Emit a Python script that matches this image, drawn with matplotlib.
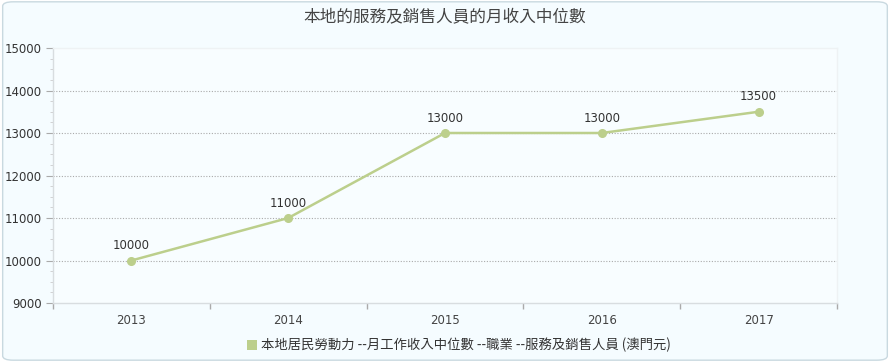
import matplotlib
matplotlib.use("Agg")
import matplotlib.pyplot as plt
from matplotlib.patches import FancyBboxPatch, Rectangle
from matplotlib.ticker import MultipleLocator
import numpy as np

plt.rcParams['font.family'] = ['Noto Sans CJK TC', 'DejaVu Sans']

years = ["2013", "2014", "2015", "2016", "2017"]
values = [10000, 11000, 13000, 13000, 13500]
title = "本地的服務及銷售人員的月收入中位數"
series_name = "本地居民勞動力 --月工作收入中位數 --職業 --服務及銷售人員 (澳門元)"

line_color = "#bccf8c"

fig = plt.figure(figsize=(8.9, 3.62), dpi=100)
fig.patch.set_facecolor("white")

# background rounded box
bg = FancyBboxPatch((0.003, 0.005), 0.994, 0.99, boxstyle="round,pad=0,rounding_size=0.012",
                    transform=fig.transFigure, facecolor="#f5fcff", edgecolor="#c9d9e0",
                    linewidth=1.0, zorder=-10)
fig.patches.append(bg)

ax = fig.add_axes([53/890, 1-303/362, (837-53)/890, (303-48)/362])
ax.set_zorder(1)
ax.set_facecolor("#f8fdff")
x = np.arange(len(years))
ax.plot(x, values, color=line_color, linewidth=1.8, marker="o", markersize=5.5,
        markerfacecolor=line_color, markeredgecolor=line_color, zorder=3)
for xi, v in zip(x, values):
    ax.annotate(f"{v}", (xi, v), xytext=(0, 6), textcoords="offset points",
                ha="center", va="bottom", fontsize=8.5, color="#333333", family="DejaVu Sans")

ax.set_xlim(-0.5, len(years) - 0.5)
ax.set_ylim(9000, 15000)
ax.set_xticks(x)
ax.set_xticklabels(years, fontsize=8.5, color="#444444", family="DejaVu Sans")
ax.set_xticks(np.arange(-0.5, len(years), 1.0), minor=True)
ax.tick_params(axis="x", which="major", length=0, pad=8)
ax.tick_params(axis="x", which="minor", length=4, color="#aaaaaa", width=1)
ax.yaxis.set_major_locator(MultipleLocator(1000))
ax.yaxis.set_minor_locator(MultipleLocator(250))
ax.tick_params(axis="y", which="major", length=5, color="#aaaaaa", labelsize=8.5,
               labelcolor="#333333", pad=3)
ax.tick_params(axis="y", which="minor", length=2, color="#cccccc")
for lbl in ax.get_yticklabels():
    lbl.set_family("DejaVu Sans")
for yv in range(10000, 15000, 1000):
    ax.axhline(yv, color="#aaaaaa", linestyle=(0, (1, 1.5)), linewidth=0.8, zorder=1)

for side in ["top", "right"]:
    ax.spines[side].set_color("#eef2f4")
    ax.spines[side].set_linewidth(1)
for side in ["left", "bottom"]:
    ax.spines[side].set_color("#d8dde0")
    ax.spines[side].set_linewidth(1)

fig.text(0.5, 1-18/362, title, ha="center", va="center", fontsize=12, color="#444444",
         fontweight="medium")

# legend
lx = 247/890
ly = 1-345/362
fig.patches.append(Rectangle((lx, ly - 5/362), 10/890, 10/362, transform=fig.transFigure,
                             facecolor=line_color, edgecolor="none"))
fig.text(lx + 14/890, ly, series_name, ha="left", va="center", fontsize=9.6, color="#333333")

fig.savefig("out.png", dpi=100)
